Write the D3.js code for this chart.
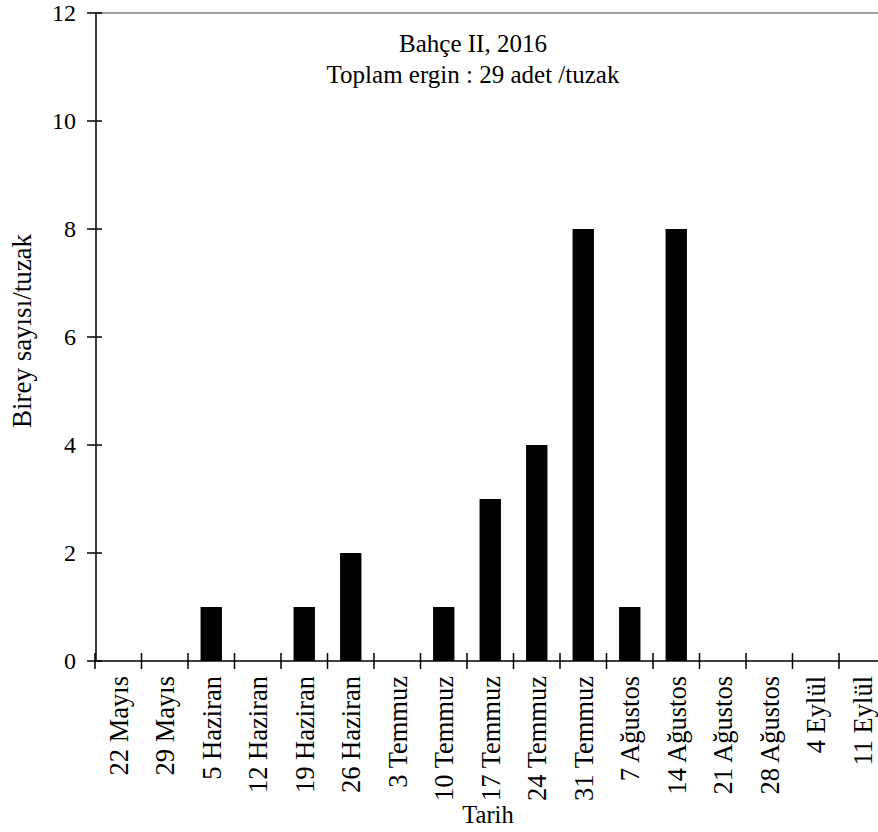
<!DOCTYPE html>
<html>
<head>
<meta charset="utf-8">
<script src="https://cdn.jsdelivr.net/npm/d3@7"></script>
<style>
  body { margin: 0; background: #fff; }
  text { font-family: "Liberation Serif", "Times New Roman", serif; fill: #000; }
</style>
</head>
<body>
<svg width="878" height="832"></svg>
<script>
// Data
const dates = ["22 Mayıs", "29 Mayıs", "5 Haziran", "12 Haziran", "19 Haziran", "26 Haziran",
  "3 Temmuz", "10 Temmuz", "17 Temmuz", "24 Temmuz", "31 Temmuz", "7 Ağustos",
  "14 Ağustos", "21 Ağustos", "28 Ağustos", "4 Eylül", "11 Eylül"];
const counts = [0, 0, 1, 0, 1, 2, 0, 1, 3, 4, 8, 1, 8, 0, 0, 0, 0];
const yTicks = [0, 2, 4, 6, 8, 10, 12];
const titleLines = ["Bahçe II, 2016", "Toplam ergin : 29 adet /tuzak"];

const svg = d3.select("svg"),
  width = +svg.attr("width"),
  height = +svg.attr("height");

const plotLeft = 96, plotTop = 13, plotBottom = 661;

const x = d3.scaleBand()
  .domain(dates)
  .range([95, 95 + 46.5 * dates.length])
  .paddingInner(0.54)
  .paddingOuter(0.27);

const y = d3.scaleLinear()
  .domain([0, 12])
  .range([plotBottom, plotTop]);

// top border (grey)
svg.append("line")
  .attr("x1", plotLeft).attr("x2", width)
  .attr("y1", plotTop).attr("y2", plotTop)
  .attr("stroke", "#808080").attr("stroke-width", 1.5);

// bars
svg.append("g")
  .selectAll("rect")
  .data(dates)
  .enter()
  .append("rect")
  .attr("x", d => x(d))
  .attr("width", x.bandwidth())
  .attr("y", (d, i) => y(counts[i]))
  .attr("height", (d, i) => plotBottom - y(counts[i]))
  .attr("fill", "#000");

// y axis
const yAxis = svg.append("g");
yAxis.append("line")
  .attr("x1", plotLeft).attr("x2", plotLeft)
  .attr("y1", plotTop).attr("y2", plotBottom)
  .attr("stroke", "#000").attr("stroke-width", 1.5);
yAxis.selectAll(".tick")
  .data(yTicks)
  .enter()
  .append("line")
  .attr("x1", plotLeft - 9).attr("x2", plotLeft + 6)
  .attr("y1", d => y(d)).attr("y2", d => y(d))
  .attr("stroke", "#000").attr("stroke-width", 1.5);
yAxis.selectAll("text")
  .data(yTicks)
  .enter()
  .append("text")
  .attr("x", 76)
  .attr("y", d => y(d))
  .attr("dy", "0.35em")
  .attr("text-anchor", "end")
  .style("font-size", "24px")
  .text(d => d);

// x axis
const xAxis = svg.append("g");
xAxis.append("line")
  .attr("x1", 95).attr("x2", width)
  .attr("y1", plotBottom).attr("y2", plotBottom)
  .attr("stroke", "#000").attr("stroke-width", 1.5);
xAxis.selectAll(".tick")
  .data(dates)
  .enter()
  .append("line")
  .attr("x1", d => x(d) + x.bandwidth() / 2 - x.step() / 2)
  .attr("x2", d => x(d) + x.bandwidth() / 2 - x.step() / 2)
  .attr("y1", plotBottom - 8).attr("y2", plotBottom + 8)
  .attr("stroke", "#000").attr("stroke-width", 1.5);
xAxis.selectAll("text")
  .data(dates)
  .enter()
  .append("text")
  .attr("transform", d => `translate(${x(d) + x.bandwidth() / 2},676) rotate(-90)`)
  .attr("dy", "0.35em")
  .attr("text-anchor", "end")
  .style("font-size", "26.5px")
  .text(d => d);

// titles
svg.append("g")
  .selectAll("text")
  .data(titleLines)
  .enter()
  .append("text")
  .attr("x", 473)
  .attr("y", (d, i) => 52 + i * 31)
  .attr("text-anchor", "middle")
  .style("font-size", "25px")
  .text(d => d);

// axis labels
svg.append("text")
  .attr("transform", "translate(31,331) rotate(-90)")
  .attr("text-anchor", "middle")
  .style("font-size", "27px")
  .text("Birey sayısı/tuzak");

svg.append("text")
  .attr("x", 488)
  .attr("y", 823)
  .attr("text-anchor", "middle")
  .style("font-size", "24.5px")
  .text("Tarih");
</script>
</body>
</html>
